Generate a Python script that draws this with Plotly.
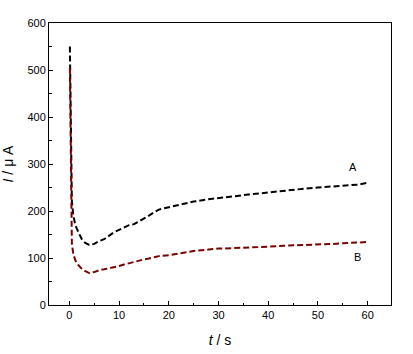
import plotly.graph_objects as go

t = [0.1, 0.2, 0.3, 0.5, 0.8, 1.2, 1.8, 2.5, 3.2, 4.0, 5.0, 6.0, 7.0, 8.0, 9.0, 10, 11, 12, 13, 14,
     15, 16, 17, 18, 20, 22, 25, 28, 30, 33, 36, 40, 43, 46, 50, 53, 56, 58, 60]
curve_a = [550, 420, 300, 220, 190, 170, 155, 140, 132, 128, 130, 136, 140, 147, 155, 160, 165, 170, 172, 178,
           183, 190, 197, 203, 208, 213, 220, 225, 228, 231, 235, 240, 243, 246, 250, 252, 254, 256, 260]
curve_b = [505, 380, 250, 130, 108, 95, 85, 77, 72, 68, 70, 74, 76, 78, 80, 83, 86, 89, 92, 95,
           97, 99, 102, 104, 106, 110, 115, 118, 120, 121, 122, 124, 126, 127, 129, 130, 132, 133, 134]
labels = ["A", "B"]
label_x = [57, 58]
label_y = [292, 100]

fig = go.Figure()
fig.add_trace(go.Scatter(x=t, y=curve_a, mode="lines",
                         line=dict(color="black", width=2, dash="6px,3px"), showlegend=False))
fig.add_trace(go.Scatter(x=t, y=curve_b, mode="lines",
                         line=dict(color="#7a0000", width=2, dash="6px,3px"), showlegend=False))
fig.add_trace(go.Scatter(x=label_x, y=label_y, mode="text", text=labels,
                         textfont=dict(family="Liberation Sans, Arial", size=11, color="black"),
                         showlegend=False))

axis_common = dict(showline=True, linecolor="black", linewidth=1, mirror=True, automargin=False,
                   ticks="inside", ticklen=4, tickcolor="black", showgrid=False, zeroline=False,
                   tickfont=dict(family="Liberation Sans, Arial", size=11, color="black"))

fig.update_xaxes(range=[-4.1, 64.7], tickvals=[0, 10, 20, 30, 40, 50, 60],
                 minor=dict(ticks="inside", ticklen=2.5, tickcolor="black", dtick=5, tick0=0),
                 title=dict(text="<i>t</i> / s", font=dict(family="Liberation Sans, Arial", size=14, color="black"),
                            standoff=14),
                 **axis_common)
fig.update_yaxes(range=[0, 600], tickvals=[0, 100, 200, 300, 400, 500, 600],
                 minor=dict(ticks="inside", ticklen=2.5, tickcolor="black", dtick=50, tick0=0),
                 title=dict(text="<i>I</i> / μ A", font=dict(family="Liberation Sans, Arial", size=14, color="black"),
                            standoff=10),
                 **axis_common)

fig.update_layout(width=413, height=354, margin=dict(l=49, r=22, t=23, b=49),
                  plot_bgcolor="white", paper_bgcolor="white")

fig.write_html("out.html")
